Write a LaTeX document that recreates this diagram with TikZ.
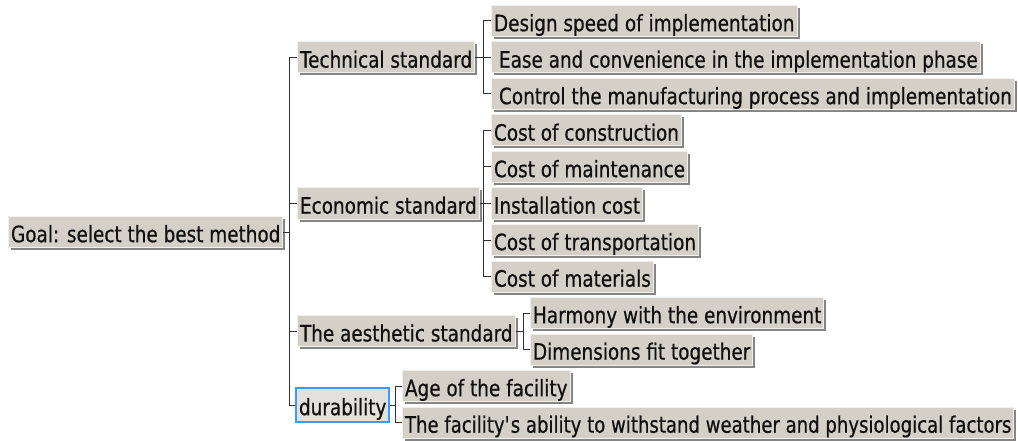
\documentclass[tikz,border=0pt]{standalone}
\usepackage{fontspec}
\setmainfont{DejaVu Sans}[FakeStretch=0.815,FakeBold=0.5]
\usetikzlibrary{shadows}
\definecolor{boxfill}{HTML}{D4D0C8}
\definecolor{boxlight}{HTML}{F2F0EC}
\definecolor{shadowgray}{HTML}{858585}
\definecolor{txt}{HTML}{101010}
\definecolor{selblue}{HTML}{3C9BFF}
\definecolor{selfill}{HTML}{E3E1DD}
\definecolor{linegray}{HTML}{303030}
% straight apostrophe, bypassing the TeX quote mapping
\newcommand{\straightquote}{\XeTeXglyph\numexpr\XeTeXcharglyph"27\relax}
\tikzset{
  x=1pt, y=-1pt,
  ibox/.style={draw=boxlight, line width=1pt, fill=boxfill, anchor=north west,
    inner xsep=2.5pt, inner ysep=0pt, text height=25.7pt, text depth=5.3pt,
    font=\fontsize{22.6}{26}\selectfont, text=txt,
    drop shadow={shadow xshift=2.5pt, shadow yshift=-2.5pt, fill=shadowgray, opacity=1}},
  selbox/.style={draw=selblue, line width=2pt, fill=selfill, anchor=north west,
    inner xsep=3pt, inner ysep=0pt, text height=27.2pt, text depth=6.8pt,
    font=\fontsize{22.6}{26}\selectfont, text=txt},
  conn/.style={draw=linegray, line width=1pt},
}
\begin{document}
\begin{tikzpicture}
\fill[white] (0,0) rectangle (1018,441);
\useasboundingbox (0,0) rectangle (1018,441);

% vertical rails of the tree
\coordinate (r1) at (289,0);
\coordinate (r2) at (483,0);
\coordinate (r3) at (523,0);
\coordinate (r4) at (395,0);

% root
\node[ibox] (goal) at (8,216) {Goal: select the best method};

% first level
\node[ibox] (tech) at (297,41.5) {Technical standard};
\node[ibox] (econ) at (297,187.5) {Economic standard};
\node[ibox] (aest) at (297,315.25) {The aesthetic standard};
\node[selbox] (dura) at (295,387) {durability};

% second level
\node[ibox] (t1) at (491,5) {Design speed of implementation};
\node[ibox] (t2) at (491,41.5) {\hspace*{5pt}Ease and convenience in the implementation phase};
\node[ibox] (t3) at (491,78) {\hspace*{5pt}Control the manufacturing process and implementation};
\node[ibox] (e1) at (491,114.5) {Cost of construction};
\node[ibox] (e2) at (491,151) {Cost of maintenance};
\node[ibox] (e3) at (491,187.5) {Installation cost};
\node[ibox] (e4) at (491,224) {Cost of transportation};
\node[ibox] (e5) at (491,260.5) {Cost of materials};
\node[ibox] (a1) at (530,297) {Harmony with the environment};
\node[ibox] (a2) at (530,333.5) {Dimensions fit together};
\node[ibox] (d1) at (402,370) {Age of the facility};
\node[ibox] (d2) at (402,406.5) {\scalebox{0.982}[1]{The facility\straightquote s ability to withstand weather and physiological factors}};

% connectors
\foreach \c in {tech,econ,aest,dura}
  \draw[conn] (goal.east) -- (goal.east -| r1) |- (\c.west);
\foreach \c in {t1,t2,t3}
  \draw[conn] (tech.east) -- (tech.east -| r2) |- (\c.west);
\foreach \c in {e1,e2,e3,e4,e5}
  \draw[conn] (econ.east) -- (econ.east -| r2) |- (\c.west);
\foreach \c in {a1,a2}
  \draw[conn] (aest.east) -- (aest.east -| r3) |- (\c.west);
\foreach \c in {d1,d2}
  \draw[conn] (dura.east) -- (dura.east -| r4) |- (\c.west);
\end{tikzpicture}
\end{document}
